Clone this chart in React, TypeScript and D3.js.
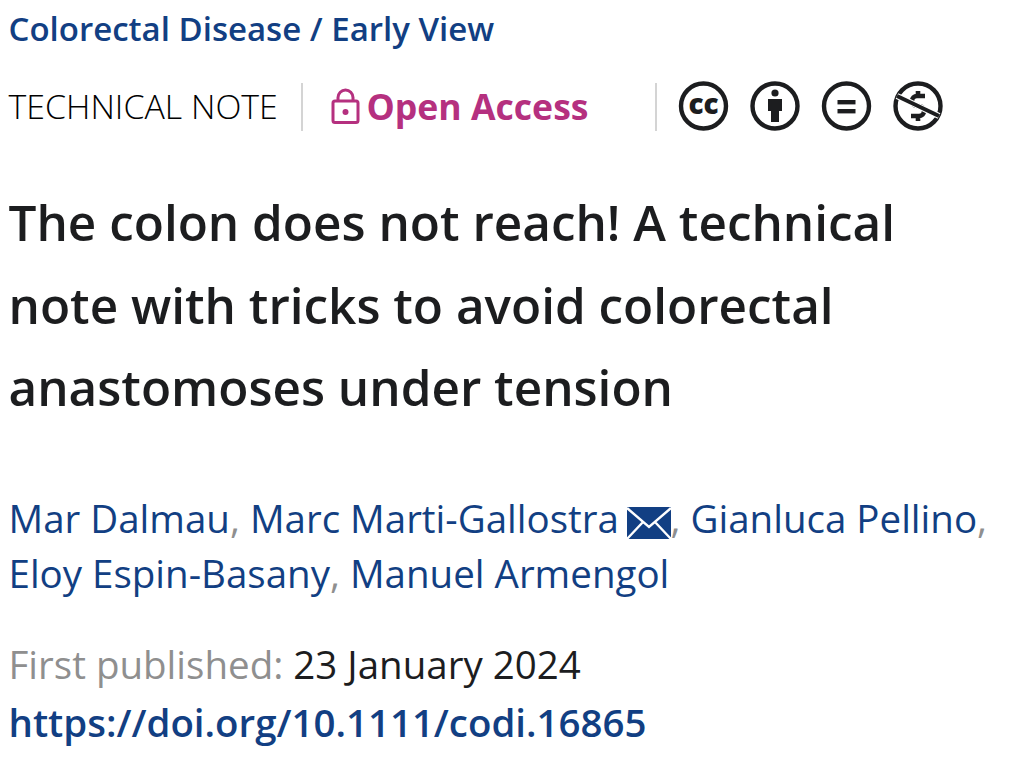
import * as d3 from 'd3';
import { useEffect, useRef } from 'react';

const width = 1011;
const height = 770;

const journal = 'Colorectal Disease / Early View';
const noteType = 'TECHNICAL NOTE';
const access = 'Open Access';
const titleLines = [
  'The colon does not reach! A technical',
  'note with tricks to avoid colorectal',
  'anastomoses under tension'
];
const authorsFirst = ['Mar Dalmau', 'Marc Marti-Gallostra'];
const authorsFirstEnd = ['Gianluca Pellino'];
const authorsSecond = ['Eloy Espin-Basany', 'Manuel Armengol'];
const publishedLabel = 'First published:';
const publishedDate = '23 January 2024';
const doi = 'https://doi.org/10.1111/codi.16865';
const licenceIcons = ['cc', 'by', 'nd', 'nc'];

const BLUE = '#123f83';
const DARK = '#1c1d1f';
const GREY = '#8f8f8f';
const MAGENTA = '#b5307f';
const RULE = '#d4d4d4';
const FONT = '"Open Sans", "Noto Sans", sans-serif';

const App = () => {
  const ref = useRef<SVGSVGElement | null>(null);

  useEffect(() => {
    if (!ref.current) return;

    const svg = d3.select(ref.current);
    svg.selectAll('*').remove();
    svg.attr('width', width).attr('height', height).attr('font-family', FONT);

    const text = (x: number, y: number, str: string, size: number, fill: string, weight = 400) =>
      svg
        .append('text')
        .attr('x', x)
        .attr('y', y)
        .attr('font-size', size)
        .attr('font-weight', weight)
        .attr('fill', fill)
        .text(str);

    text(8.5, 41, journal, 33, BLUE, 600);
    text(8.5, 119, noteType, 33.9, '#000', 300);
    text(366.5, 119.5, access, 35.6, MAGENTA, 700);

    // the two thin separators
    svg
      .selectAll('.sep')
      .data([302, 656])
      .enter()
      .append('line')
      .attr('x1', d => d)
      .attr('x2', d => d)
      .attr('y1', 83)
      .attr('y2', 131)
      .attr('stroke', RULE)
      .attr('stroke-width', 2);

    // padlock, open
    const lock = svg.append('g').attr('transform', 'translate(345.5,107)');
    lock
      .append('rect')
      .attr('x', -12.5)
      .attr('y', -6)
      .attr('width', 25)
      .attr('height', 21.5)
      .attr('rx', 2)
      .attr('fill', 'none')
      .attr('stroke', MAGENTA)
      .attr('stroke-width', 3);
    lock
      .append('path')
      .attr('d', 'M-7.5,-6 V-9.5 A7.5,7.5 0 0 1 7.5,-9.5 V-6')
      .attr('fill', 'none')
      .attr('stroke', MAGENTA)
      .attr('stroke-width', 3);
    lock.append('circle').attr('cx', 0).attr('cy', 5).attr('r', 3).attr('fill', MAGENTA);

    // licence badges
    const iconX = d3.scalePoint<string>().domain(licenceIcons).range([703.5, 918]);
    licenceIcons.forEach(name => {
      const g = svg.append('g').attr('transform', `translate(${iconX(name)},106)`);
      g.append('circle')
        .attr('r', 22.5)
        .attr('fill', '#fff')
        .attr('stroke', DARK)
        .attr('stroke-width', 4.4);
      if (name === 'cc') {
        g.append('text')
          .attr('text-anchor', 'middle')
          .attr('y', 7.5)
          .attr('font-size', 28)
          .attr('font-weight', 800)
          .attr('fill', DARK)
          .text('cc');
      }
      if (name === 'by') {
        g.append('circle').attr('cy', -13).attr('r', 3.6).attr('fill', DARK);
        g.append('path').attr('d', 'M-7,-7 H7 V5 H4 V16 H-4 V5 H-7 Z').attr('fill', DARK);
      }
      if (name === 'nd') {
        g.append('rect').attr('x', -9).attr('y', -6).attr('width', 18).attr('height', 4.4).attr('fill', DARK);
        g.append('rect').attr('x', -9).attr('y', 3).attr('width', 18).attr('height', 4.4).attr('fill', DARK);
      }
      if (name === 'nc') {
        g.append('path')
          .attr('d', 'M7,-10 H-1 A5,5 0 0 0 -1,0 H1 A5,5 0 0 1 1,10 H-7 M0,-15 V-10 M0,10 V15')
          .attr('fill', 'none')
          .attr('stroke', DARK)
          .attr('stroke-width', 4.6);
        g.append('line')
          .attr('x1', -21)
          .attr('y1', -10)
          .attr('x2', 21)
          .attr('y2', 10)
          .attr('stroke', '#fff')
          .attr('stroke-width', 6);
        g.append('line')
          .attr('x1', -21)
          .attr('y1', -10)
          .attr('x2', 21)
          .attr('y2', 10)
          .attr('stroke', DARK)
          .attr('stroke-width', 4);
      }
    });

    // title
    const titleY = d3.scalePoint<string>().domain(titleLines).range([241, 406]);
    titleLines.forEach(line => {
      text(8.5, titleY(line) as number, line, 49.45, DARK, 600);
    });

    // authors, names in blue and separators in grey
    const line1 = text(8.5, 533, '', 38.5, BLUE);
    line1.append('tspan').text(authorsFirst[0]);
    line1.append('tspan').attr('fill', GREY).text(', ');
    line1.append('tspan').text(authorsFirst[1]);

    // envelope
    const env = svg.append('g').attr('transform', 'translate(627,507)');
    env.append('rect').attr('width', 44).attr('height', 32).attr('fill', BLUE);
    env
      .append('path')
      .attr('d', 'M0,1 L22,20 L44,1 M0,32 L16,15 M44,32 L28,15')
      .attr('fill', 'none')
      .attr('stroke', '#fff')
      .attr('stroke-width', 2.4);

    const line1End = text(670.5, 533, '', 38.5, BLUE);
    line1End.append('tspan').attr('fill', GREY).text(', ');
    line1End.append('tspan').text(authorsFirstEnd[0]);
    line1End.append('tspan').attr('fill', GREY).text(',');

    const line2 = text(8.5, 588, '', 38.5, BLUE);
    line2.append('tspan').text(authorsSecond[0]);
    line2.append('tspan').attr('fill', GREY).text(', ');
    line2.append('tspan').text(authorsSecond[1]);

    const pub = text(8.5, 678.5, '', 38.5, DARK);
    pub.append('tspan').attr('fill', GREY).text(publishedLabel + ' ');
    pub.append('tspan').text(publishedDate);

    text(8.5, 736.5, doi, 38.45, BLUE, 600);
  }, []);

  return <svg ref={ref} style={{ position: 'absolute', left: 0, top: 0, background: '#fff' }} />;
};

export default App;
